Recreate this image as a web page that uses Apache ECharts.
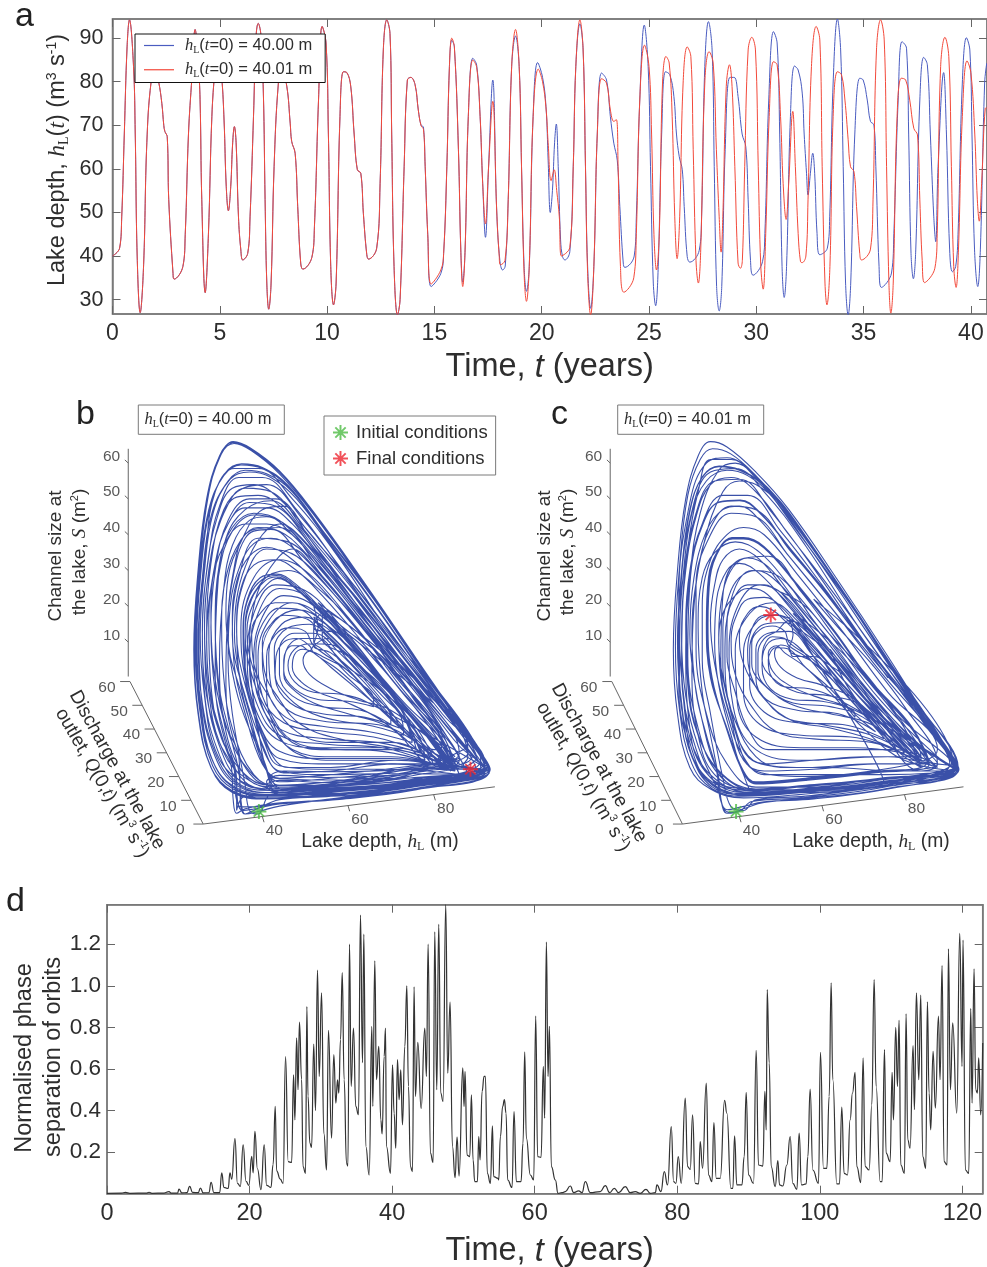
<!DOCTYPE html>
<html><head><meta charset="utf-8">
<style>html,body{margin:0;padding:0;background:#fff}#c{width:987px;height:1267px}</style>
<script src="https://cdn.jsdelivr.net/npm/echarts@6/dist/echarts.min.js"></script>
</head><body><div id="c"></div>
<script>
// ---------- panel a: lake depth, flat lists of t,value
const depthShared = [0,40,.33,41.8,.43,49,.55,68,.68,88,.79,94.2,.98,83.5,1.06,68,1.15,40,1.29,27,1.45,38,1.6,66,1.8,80,2,82.5,2.15,80,2.3,75,2.39,70,2.44,68.6,2.55,67.4,2.62,53,2.82,36,2.87,34.7,3.28,37.6,3.39,45,3.54,68,3.7,81,3.85,92,4,84,4.08,76,4.16,53,4.32,31.6,4.47,45,4.63,72,4.78,83,4.92,88,5.09,81,5.2,71,5.3,56,5.4,50.4,5.51,56,5.6,66,5.68,69.7,5.76,66,5.87,49,5.98,41.4,6.07,39.1,6.3,40.6,6.41,49,6.57,72,6.69,90.4,6.79,93.4,6.91,91,7.03,77.4,7.11,53,7.19,33.8,7.28,27.8,7.39,33.8,7.53,60.5,7.73,79.7,7.89,82.7,8.12,79,8.28,70.5,8.35,66.3,8.51,63.6,8.63,51.4,8.77,38.4,8.87,37,9.29,39.7,9.41,46.8,9.6,75.8,9.77,92.7,9.95,88.9,10.06,68,10.17,37.6,10.3,28.8,10.42,33.8,10.6,72,10.76,82.3,10.92,82.1,11.1,79,11.26,68,11.41,59.8,11.57,59,11.69,49.8,11.85,40.3,11.93,39.3,12.31,41.8,12.47,56.7,12.62,87.3,12.78,94.2,12.93,91.1,13.01,68,13.12,37.6,13.28,26.5,13.4,30,13.59,60.5,13.74,80.4,13.9,81,14.1,79.3,14.25,73.5];
const depthBlueMid = [14.38,70,14.49,69.6,14.57,60.5,14.69,45,14.85,33,15.3,36,15.43,40.6,15.58,60.5,15.7,83.5,15.81,89.5,15.93,88,16.12,64.4,16.23,41.4,16.32,34,16.43,41.4,16.58,72,16.79,85.4,16.97,83.8,17.13,72,17.25,56.7,17.38,44.3,17.52,60,17.72,80.4,17.9,50.8,18.05,39,18.18,36.8,18.3,37.7,18.44,53,18.6,83.5,18.78,90.5,18.95,83.5,19.06,60.5,19.18,37.6,19.29,31.9,19.42,37.6,19.6,72,19.81,84.4,20.04,81,20.2,74.3,20.3,62,20.4,50,20.5,55,20.6,66,20.68,70.3,20.77,60.5,20.88,43.7,20.97,39.9,21.08,39.1,21.31,41,21.47,60.5,21.59,83.5,21.78,93.3,21.93,87.3,22.04,60.5,22.14,37.6,22.28,28,22.43,37.6,22.59,68,22.79,82,23.02,80.4];
const depthBlueTail = [23.2,72,23.36,65.9,23.52,62,23.64,51.4,23.8,38.4,23.87,37.4,24.31,40,24.41,49,24.57,75.8,24.78,93,24.96,83.5,25.07,60.5,25.2,33.8,25.31,28.6,25.43,37.6,25.59,68,25.77,82.3,25.97,81.6,26.16,76.6,26.28,68,26.41,62.8,26.55,59.8,26.64,51.4,26.78,39.9,26.9,38.6,27.34,41.3,27.45,49,27.6,83.5,27.77,93.8,27.94,87.3,28.04,60.5,28.15,33,28.27,27.4,28.39,33,28.55,64.4,28.77,81,28.97,81,29.15,76.6,29.34,68,29.51,65.1,29.62,52.9,29.73,39,29.85,35.6,30.29,38.7,30.4,45.2,30.58,75.8,30.8,91.5,30.97,88.9,31.09,68,31.2,37.6,31.3,30.5,31.41,37.6,31.59,72,31.78,83.6,31.95,82.7,32.14,77.4,32.23,68,32.34,59,32.41,54,32.52,59,32.63,63.6,32.72,59,32.83,45.2,32.96,40.3,33.31,41.8,33.42,49,33.58,79.7,33.78,94.4,33.93,87.3,34.05,60.5,34.16,33.8,34.28,26.5,34.4,33.8,34.59,68,34.82,80.8,34.98,80.4,35.17,75.8,35.32,70.9,35.48,70.1,35.57,60.5,35.72,37.6,35.83,32.8,36.3,36.1,36.41,45.2,36.61,75.8,36.79,89.2,37,87.7,37.1,68,37.21,40.6,37.32,34.8,37.43,41.4,37.62,75.8,37.8,85.6,37.97,83.9,38.11,68,38.27,49,38.36,43.3,38.47,60.5,38.73,82.1,38.86,68,39.01,41.4,39.14,36.4,39.29,37.6,39.4,45,39.6,79.7,39.79,90.1,39.95,87.3,40.05,68,40.17,41.4,40.32,33,40.44,41.4,40.64,79.7,40.74,84.3];
const depthRedMid = [14.38,69.9,14.49,69.1,14.57,60.5,14.69,45,14.85,33.6,15.3,36.8,15.43,40.6,15.58,60.5,15.7,83.5,15.81,90,15.93,88,16.12,64.4,16.23,41.4,16.32,33,16.43,41.4,16.58,72,16.79,85,16.97,83.3,17.13,72,17.25,56.7,17.38,47.4,17.52,60,17.72,75.5,17.9,50.8,18.02,40,18.08,38,18.29,39,18.44,53,18.6,83.5,18.78,92,18.95,83.5,19.06,60.5,19.18,36,19.29,29.6,19.42,37.6,19.6,72,19.84,82.9,20.04,80,20.2,74,20.3,66,20.44,57.3,20.58,59.8,20.7,55,20.82,49,20.92,40,21.31,42,21.47,60.5,21.59,83.5,21.78,94.2,21.93,87.3,22.04,60.5,22.14,36,22.28,26.5,22.43,37.6,22.59,68,22.79,80.7,23.02,79.7];
const depthRedTail = [23.2,73.5,23.36,70.9,23.48,71.3,23.56,60.5,23.67,37.6,23.83,31.7,24.29,35,24.41,45.2,24.57,75.8,24.79,88.4,25,83.5,25.12,68,25.23,45,25.35,36.8,25.48,45.2,25.63,79.7,25.79,85.8,25.94,84.3,26.08,72,26.2,49,26.31,39.4,26.43,49,26.59,79.7,26.78,88,26.95,85.8,27.06,64.4,27.19,39,27.3,33.8,27.41,41.4,27.6,79.7,27.8,86.9,27.99,84.3,28.14,64.4,28.27,49,28.36,40.9,28.44,49,28.6,78.9,28.75,83.9,28.87,78.9,29,60.5,29.15,38.4,29.26,37.2,29.35,39,29.46,60.5,29.62,87.3,29.79,90.2,29.96,87.3,30.09,60.5,30.21,37.6,30.32,32.4,30.44,45.2,30.6,72,30.8,84.6,30.97,83.9,31.13,72,31.25,56.7,31.39,48.4,31.51,56.7,31.7,73.2,31.82,60.5,31.95,45.2,32.06,38.7,32.14,38.5,32.31,40,32.41,52.9,32.57,83.5,32.79,92.7,32.96,89.6,33.07,60.5,33.2,33.8,33.29,28.8,33.43,37.6,33.58,72,33.78,82.3,33.97,81.6,34.13,75.8,34.28,66.7,34.39,60.5,34.55,59.4,34.67,51.4,34.82,40.6,34.9,39.1,35.32,41.6,35.44,52.9,35.6,87.3,35.79,94.2,35.96,89.6,36.07,60.5,36.18,33.8,36.27,26.9,36.38,33.8,36.56,72,36.76,80.8,36.96,80.4,37.15,75.8,37.34,69.3,37.51,67.8,37.62,52.9,37.73,39,37.84,33.9,38.32,37.2,38.43,45.2,38.59,83.5,38.79,90.2,38.97,85.8,39.09,60.5,39.2,37.6,39.31,32.8,39.42,41.4,39.6,72,39.82,84.8,40,82,40.18,68,40.3,52.9,40.39,48,40.5,56.7,40.67,73.9,40.74,74];
const timeTicksA = [0,5,10,15,20,25,30,35,40];
const depthTicksA = [30,40,50,60,70,80,90];

// ---------- panel d: separation, flat list of t,value
const separation = [0,.002,2,.003,2.6,.006,3.2,.002,5.5,.003,5.9,.007,6.3,.002,8,.003,8.7,.01,9,.003,9.9,.003,10.1,.022,10.5,.004,11.2,.005,11.6,.035,12,.006,12.8,.005,13.1,.027,13.5,.004,14.3,.005,14.6,.055,15,.005,15.8,.005,16.1,.1,16.4,.03,17,.025,17.25,.1,17.5,.07,17.95,.265,18.3,.05,18.7,.035,19.1,.235,19.5,.06,19.9,.04,20.3,.18,20.5,.1,20.75,.3,21.1,.12,21.6,.02,22.05,.235,22.4,.04,23,.03,23.3,.14,23.6,.42,23.8,.11,24.3,.07,24.7,.05,25.05,.66,25.42,.154,25.9,.15,26.17,.572,26.36,.355,26.6,.75,26.8,.5,27,.825,27.3,.55,27.5,.13,27.85,.098,28.04,.9,28.2,.47,28.46,.243,28.7,.223,29,.72,29.25,.4,29.53,1.075,29.77,.564,30.1,.966,30.42,.29,30.8,.114,31.07,.786,31.5,.267,31.82,.669,32.1,.436,32.34,.548,32.52,.484,32.76,.741,33,1.063,33.27,.548,33.6,.146,33.79,.133,34.02,1.2,34.25,.516,34.58,.797,34.9,.42,35.28,.38,35.56,1.34,35.84,.63,36.03,1.248,36.31,.227,36.78,.09,37.15,.805,37.29,.42,37.57,1.12,37.8,.548,38.13,.709,38.41,.355,38.6,.288,38.88,.66,39.07,.797,39.2,.227,39.77,.098,40.05,.62,40.28,.387,40.51,.219,40.75,.645,40.98,.452,41.21,.596,41.45,.331,41.78,.709,42.06,1,42.29,.516,42.57,.13,42.85,.106,43.08,.995,43.27,.468,43.6,.728,44.07,.41,44.58,.797,44.81,.564,45.05,1.2,45.37,.195,45.75,.15,45.98,1.26,46.26,.5,46.54,1.296,46.82,.484,47.15,.444,47.52,1.39,47.8,.58,48.13,.921,48.46,.227,48.83,.077,49.11,.272,49.39,.085,49.91,.605,50.09,.42,50.23,.588,50.51,.186,50.89,.178,51.12,.476,51.36,.162,51.59,.058,51.96,.058,52.15,.275,52.34,.162,52.62,.492,52.9,.564,53.08,.564,53.36,.098,53.79,.05,54.07,.326,54.25,.082,54.86,.074,54.95,.066,55.19,.275,55.51,.42,55.75,.452,55.98,.387,56.21,.066,56.82,.03,57.1,.395,57.43,.058,58.08,.058,58.36,.243,58.6,.682,58.83,.267,59.39,.09,59.86,.066,60.14,.854,60.42,.178,60.89,.175,61.21,.612,61.4,.363,61.64,1.21,61.87,.564,62.06,.805,62.34,.13,62.9,.066,63.27,.002,63.83,.005,64.3,.01,65,.037,65.47,.005,66.17,.014,66.64,.005,67.1,.058,67.8,.005,69.2,.01,69.91,.039,70.51,.005,71.17,.026,71.78,.005,72.71,.034,73.41,.005,74.11,.01,74.81,.002,75.61,.021,76.21,.002,76.92,.005,77.15,.042,77.71,.01,78.18,.106,78.64,.042,79.16,.323,79.49,.058,79.81,.05,80.14,.178,80.56,.05,81.12,.46,81.45,.13,81.82,.117,82.15,.379,82.52,.05,82.99,.047,83.22,.25,83.55,.122,84.07,.532,84.39,.09,84.86,.058,85.14,.342,85.47,.074,86.03,.074,86.64,.449,86.96,.387,87.52,.026,87.8,.026,88.04,.278,88.36,.042,89.07,.042,89.39,.178,89.67,.487,90,.09,90.7,.05,91.07,.69,91.4,.138,92.01,.133,92.29,.492,92.48,.307,92.62,.982,92.9,.629,93.18,.13,93.74,.034,94.11,.159,94.35,.042,94.81,.037,95.37,.138,95.84,.275,96.21,.05,96.78,.021,97.1,.291,97.43,.042,98.08,.047,98.32,.178,98.64,.503,99.02,.114,99.81,.05,100.09,.68,100.51,.122,100.98,.122,101.31,.468,101.59,1.014,101.82,.548,102.38,.047,102.76,.047,103.08,.416,103.41,.098,103.88,.09,104.25,.355,104.58,.484,104.95,.584,105.19,.13,105.75,.053,106.07,.653,106.36,.13,106.92,.114,107.29,.428,107.62,1.03,107.9,.516,108.46,.058,108.74,.058,109.07,.693,109.3,.195,109.86,.154,110.14,.584,110.33,.355,110.65,.8,110.89,.516,111.12,.834,111.36,.138,111.87,.098,112.1,.865,112.34,.259,112.66,.219,113.08,.712,113.27,.404,113.55,.966,113.88,.548,114.16,.955,114.44,.178,114.86,.122,115.09,.923,115.33,.484,115.56,.307,115.89,.685,116.21,.412,116.64,.854,116.87,.548,117.15,1.098,117.43,.154,117.85,.138,118.04,1.178,118.32,.5,118.64,.822,119.21,.387,119.63,1.252,119.95,.612,120.09,1.22,120.42,.114,120.89,.098,121.17,.891,121.36,.436,121.64,1.082,121.87,.5,122.1,.484,122.29,.653,122.57,.379,122.85,.725];
const timeTicksD = [0,20,40,60,80,100,120];
const sepTicks = [.2,.4,.6,.8,1,1.2];

// ---------- panels b, c: orbit loops, estimated on the picture plane
// (horizontal unit = hL along the front axis, vertical unit = S along the vertical axis)
const orbitB = [
[93,-25,75,-30,55,-32.5,41,-33.5,33,-31.5,28,-25,25,-10,24,8,25,30,27,50,30,62,33,65.8,37,64,44,57.5,52,46,64,26,76,5,88,-16],
[93.2,-25.5,75,-30.4,55,-32.8,41,-33.8,33,-32,28.2,-25.5,25.2,-11,24.2,8,25.2,30,27.2,50,30.2,62,33.2,66,37.2,64.2,44,57.8,52,46.3,64,26.3,76,5.3,88,-15.8],
[92.6,-24.6,75,-29.6,55,-32,41,-33,33.2,-31,28.4,-24.5,25.4,-9,24.4,9,25.4,31,27.4,51,30.4,62.5,33.4,65.5,37.4,63.5,44,57,52,45.6,64,25.6,76,4.7,88,-16.3],
[93,-25.2,75,-30.2,55,-32.6,41,-33.6,33,-31.7,28.1,-25.2,25.1,-10,24.1,8,25.1,30,27.1,50,30.1,62,33.1,65.9,37.1,64,44,57.6,52,46.1,64,26.1,76,5.1,88,-15.9],
[92,-24,74,-29.5,55,-31.5,42,-32.5,33,-30,28,-22,25.5,-8,24.5,10,25.5,30,27.5,47,31,56.5,35,59.5,40,58.5,46,53.5,54,41,66,22,78,1,88,-15],
[92.5,-24.5,74,-29.8,55,-31.8,42,-32.8,33.2,-30.5,28.2,-22.5,25.7,-8,24.7,10,25.7,30,27.7,47,31.2,57,35.2,59.8,40,58.8,46,53.8,54,41.3,66,22.3,78,1.3,88,-14.8],
[91,-23,74,-29,55,-31,42,-32,34,-29.5,29,-21,26,-7,25,10,26,28,28,45,32,55,36,58,41,57,47,52,55,39,66,21,78,.5,88,-15.5],
[92,-23.5,74,-28.5,55,-30.5,43,-31.5,34,-28,29,-20,26.5,-5,25.5,12,26.5,30,28.5,46,32.5,55.5,37,57.5,42,56,48,50,56,37,67,19,78,0,87,-15],
[93,-26,75,-31,55,-34,43,-35,36,-36.5,34,-37.8,33.2,-34,32.8,-25,30,-18,27,-5,26,12,27,30,29.5,45,33,53,38,54,44,50,52,39,62,25,74,6,86,-14],
[90,-22,74,-27.5,56,-30,44,-31,35,-27,30,-18,27.5,-4,26.5,14,27.5,30,30,43,34,50.5,39,51,45,47,53,35,63,21,74,4,85,-13],
[92,-25,75,-30,56,-33,44,-34,38,-37,36,-38,35,-34,34.5,-22,31,-12,28.5,4,28,18,29,32,32,43,36,47.5,41,47.5,47,43,55,31,65,16,76,-1,88,-20],
[88,-21,73,-26.5,56,-29,43,-30,37,-26,32,-15,29.5,0,29,15,30,30,33,41,38,45.5,43,44.5,49,39,57,27,66,13,76,-3,86,-18],
[89,-22,73,-27,56,-29.5,44,-30.5,38,-27,33,-14,31,0,30.5,15,31.5,28,35,38.5,39,42,44,41,50,35,58,24,67,10,77,-5,86,-19],
[92,-25,74,-29,56,-31,42,-32.5,39,-38,37,-37,36,-30,33,-10,32,5,32.5,20,35,32,38,37.5,42,39,47,36.5,54,28,63,15,74,-3,85,-20],
[86,-22,72,-25,56,-27,44,-28,40,-24,36,-10,33.5,3,33,16,34,27,37,34,41,36.5,46,34,53,26,61,15,71,1,81,-13],
[86,-23,72,-26,56,-28,44,-29,41,-26,37,-12,34.5,2,34,15,35,25,38,31.5,43,33,48,30,54,23,62,12,72,-3,82,-16],
[85,-24,71,-24,56,-26,45,-26.5,41,-22,38,-10,36,1,35.5,13,36.5,22,39.5,28,43.3,29,48,26,54,19,63,7,72,-6,80,-17,85,-25],
[85,-25,71,-23,56,-25,46,-25,41.5,-20,38,-8,36,3,35.6,15,37,23,40,27.5,43.3,28.6,48,25.5,54,18.5,63,6.5,72,-6.5,80,-17.5,85,-25.5],
[85,-25.5,70,-20,55,-20,47,-18,41.5,-10,37.5,1,36,13,37.5,22,40.5,27,43.3,28.2,48,25,54,18,63,6,72,-7,80,-18,85,-26],
[84,-24,70,-19.5,55,-19.5,47,-17.5,42,-10,38,2,36.4,13,38,21,41,26,43.5,27.8,48,24.7,54,17.7,63,5.7,72,-7.3,80,-18.2,84,-25],
[82,-24,70,-18,56,-18,48,-15,42,-6,38,4,37.5,13,39.5,18,43,21,47,21,52,18,58,11,66,1,74,-10,82,-22],
[83,-25,70,-22,56,-22,47,-20,42,-13,39,-3,38.5,8,40,15,44,19.5,49,19,53,15,60,7,68,-3,76,-14,83,-25],
[84,-25,72,-20,58,-17,49,-13,44,-6,40.5,2,40,10,42,15,45,17.5,49,17,52,14.5,52,10,57,9,65,0,73,-11,81,-22],
[85,-26,72,-23,58,-23,48,-21,43,-14,41,-4,41,6,43,12,46,14,50,13,52,9,60,2,68,-8,76,-18,84,-25],
[84,-26,70,-14,58,-12,50,-9,45,-4,43,1,43.2,6,45,10,48,11,51,9,52,7,58,2,66,-7,74,-16,82,-24],
[80,-24,70,-14,60,-10,52,-7,47,-3,45,1,45,5,47,9,49,9,51,7.5,52,9,55,11,60,5,68,-5,76,-15],
[78,-22,68,-12,60,-7,53,-4,49,-1,47,3,47.5,6.5,49.5,8,52,7,56,3,62,-3,68,-9,74,-15,80,-20],
[82,-20,70,-9,62,-6,56,-3,51,1,49.5,5,51,7.5,54,6,60,2,66,-6,74,-16,84,-26],
[80,-19,74,-10,66,-2,60,3,56,8,53,12,52,16,55,14,60,9,66,2,72,-6,79,-15,85,-22],
[78,-15,72,-7,66,0,60,6,54,13,52,17,56,14,62,8,68,0,74,-8,81,-16,86,-24],
[92,-26,75,-30.5,56,-32.5,44,-32.5,41,-26,39,-14,37.5,-2,37,10,38,20,40,27,44,34,47,36,52,31,60,20,70,5,80,-8,90,-23],
[93,-25,75,-29,56,-31,44,-31,40.5,-24,37,-10,34.5,2,33.5,12,34,22,36,31,40,40,44,43,50,38,58,26,68,10,78,-5,91,-24],
[93,-25.5,74,-28,56,-30,44,-30,40,-22,35,-8,32.5,5,31.5,18,32,28,35,38,40,47,45,48,51,39,60,25,70,9,82,-10,92,-24],
[92,-25,76,-30,56,-33,44,-33,36,-33,34,-37,34,-30,31,-18,28,-5,27,10,28,25,31,37,36,43,41,43,47,40,56,27,68,9,80,-6,92,-25],
[64,-6.5,58,-4.5,52,-4,47.5,-1,46,3.5,47.5,8,51,9.5,54,8,60,1,66,-6],
[66,-8,60,-6.5,53,-6,47.5,-3,45,2,45.5,7.5,49,11,53,11,58,5,65,-4,70,-11],
[70,-13,63,-9,54,-8,47,-5,44,1,44,8,47.5,12.5,52,12.5,58,7,65,-2,71,-11],
[72,-14,64,-11,54,-10,46.5,-7,43,0,42.8,8,46,14,51,15,56,11,63,2,72,-10],
[73,-16,64,-13,54,-12,46,-9,42,-2,41.5,7,44.5,15,50,17,55,13,63,3,73,-11],
[75,-18,65,-15,54,-13.5,45.5,-11,41,-3,40,7,43,16,48.5,19,54,16,62,6,72,-8],
[76,-20,66,-16.5,55,-15,45,-12.5,40,-5,39,6,41.5,16,47,21,53,18,61,9,71,-6],
[77,-21,67,-18,55,-17,44.5,-14.5,39.5,-7,38,5,40,17,45,23,51,21,60,11,70,-4],
[78,-23,68,-19.5,55,-18.5,44,-16,39,-8,37,4,39,18,44,25,50,23,59,13,69,-2],
[80,-24,68,-20.5,55,-19.8,44,-17.5,38.5,-9,36.5,5,38,18,43,26,49,25,58,15,68,0],
[84,-25,70,-22.5,55,-22.5,44,-20.5,39,-12,36,2,36,15,40,27,46,30,53,25,62,14,72,-2,82,-17],
[85,-26,70,-24,55,-24,44,-22.5,40,-15,36,0,35,14,38,28,44,33,51,29,60,17,70,2,80,-13],
[86,-27,70,-25.5,55,-25.5,44,-24.5,40.5,-18,36,-2,34,13,36,28,41,36,48,34,57,23,68,7,80,-11],
[86,-27,70,-26.7,55,-27,44,-26,40.5,-20,35.5,-3,33,12,34.5,28,39,39,46,38,55,27,66,11,78,-7],
[88,-27,70,-28,55,-28.5,43,-28,40,-22,35,-4,32,12,33,28,37,41,44,42,53,31,64,15,76,-3],
[90,-26,72,-29,55,-30,43,-30,37,-28,31,-18,28,-2,27.5,15,29,32,32,43,37,49,43,48,52,36,62,22,74,4,86,-15],
[91,-25,72,-28.8,55,-30.2,42,-31,35,-29,30,-19,27,-3,26.5,14,28,33,31,46,36,53,42,52,50,41,61,25,73,6,86,-14],
[92,-25,73,-29.2,55,-30.8,42,-31.4,34.5,-29.5,29.5,-20,26.5,-4,26,13,27.5,34,30,48,34.5,56,40,56,48,47,58,31,71,9,85,-12],
[92,-24,73,-29.6,55,-31.3,42,-32,34,-30,29,-22,25.8,-6,25.2,12,26.8,35,29,52,33.5,58.5,39,58.5,47,50,57,35,70,12,84,-9],
[88,-22,72,-26,56,-29,44,-30,38,-28,33,-16,31.5,0,32,18,34,33,36,39,38,41,42,41.5,50,32,60,19,72,2,84,-14],
[86,-21,70,-26,54,-30,44,-30.5,36.5,-28,31,-12,30,5,31,25,33,37,37,44,41,45,47,40,55,29,66,13,78,-3,88,-17],
[87,-20,72,-27,54,-30.5,43,-31,36,-29,30.5,-14,29,3,29.5,24,31.5,39,36,47,42,49.5,49,42,58,27,68,11,80,-7],
[52,20,53,14,52,9,56,7,62,1,68,-7,76,-18,80,-24,82,-17,76,-7,70,3,62,13,56,18,52,20],
[54,18,54,11,60,6,66,-1,72,-10,78,-19,84,-24,80,-13,74,-3,68,6,60,13,54,18],
[52,14,60,12,67,4,74,-6,81,-16,84,-23,78,-12,70,0,64,9,57,16,53,21],
[92,-25,72,-29.8,55,-32,44,-32.4,41,-30,44,-28.6,55,-29.2,70,-28.2,82,-25],
[93,-26,74,-30,55,-32.2,44,-32,41,-29,44,-27.2,55,-27.8,70,-27.2,83,-25.5],
[92,-25.5,74,-29.4,56,-31.2,45,-31.2,42,-27.5,45,-26,56,-26.2,70,-25.8,84,-24.6],
[93,-26.5,76,-30.8,58,-33.5,44,-35.8,39,-37.3,36,-38,35,-36,34.6,-27,32.5,-16,30,-3,29,15,30,32,33,42,38,46,44,44,52,34,64,17,78,-3],
[92,-26,76,-31,58,-33.7,44,-35.2,38,-36.6,35.5,-37,34.3,-35,33.8,-26,31.5,-17,29,-4,28,14,29,30,32,44,37,50,43,50,50,42,62,24,76,2,90,-20],
[93,-26,76,-31.2,58,-33.9,44,-35,38,-36,35,-36,33.8,-33,33.4,-25,30.5,-17,28,-6,27,14,28,32,31,47,35.5,53,41,54,49,45,60,28,74,6,89,-18]
];
const orbitC = [
[93,-25,75,-30,55,-32.5,41,-33.5,33,-31,28,-25,25,-10,24,8,25,30,27,50,30,62,33,66,37,64.5,44,57.5,52,47,64,27,76,6,88,-16],
[93.2,-25.5,75,-29.5,55,-32,41,-33,33.5,-31,28.5,-24,25.5,-9,24.5,9,25.5,31,27.5,51,30.5,61,33.5,64,38,62.5,44,56.5,52,46,64,26,76,5,88,-16.5],
[92.5,-24.5,74,-29,55,-31.5,42,-32.5,34,-30,28.5,-22,26,-8,25,10,26,30,28,47,31,56,35,59,40,58,46,53.5,54,42,66,22.5,78,1.5,88,-15.5],
[92.8,-24.8,74,-29.3,55,-31.8,42,-32.8,34,-30.3,28.6,-22.3,26.1,-8,25.1,10,26.1,30,28.1,47,31.1,56.3,35.1,59.2,40,58.2,46,53.7,54,42.2,66,22.7,78,1.7,88,-15.3],
[91.5,-23.5,74,-28.5,55,-31,43,-32,35,-29,29,-20,26.5,-5,25.5,12,26.5,30,28.5,46,32,55,37,58,42,56.5,48,50.5,56,38,67,19.5,78,.5,87,-15],
[93,-25,75,-30.5,55,-33.5,43,-34.5,40,-37.3,37,-37.8,35,-32,30,-19,27,-5,26,12,27,30,29.5,45,33,54,38,56,44,52,52,40,62,25,74,6,86,-14],
[92,-24.5,74,-28,56,-30,44,-31,36,-27,30,-16,27.5,-2,27,15,28,30,31,43,35,49,40,49.5,45,46,53,35,63,21,74,4,85,-13],
[92.2,-24.7,74,-28.3,56,-30.3,44,-31.3,36,-27.3,30.2,-16.3,27.7,-2,27.2,15,28.2,30,31.2,43,35.2,49.2,40.2,49.7,45,46.2,53,35.2,63,21.2,74,4.2,85,-13.2],
[92,-25,75,-30,56,-33,44,-34,41,-37,38,-36,36,-28,33,-10,31,5,31,20,33,33,37,40,41,42,46,40,54,29,65,13,76,-4,88,-20],
[85,-23,72,-26,56,-28,44,-29,41,-26,37,-14,33,0,32,15,32.5,28,35,36,38,39,41,39,46,36.5,54,26,63,13,72,-1,82,-14],
[85.5,-23.5,72,-26.3,56,-28.3,44,-29.3,41,-26.3,37,-14.3,33.2,0,32.2,15,32.7,28,35.2,36.2,38.2,39.2,41,39.2,46,36.7,54,26.2,63,13.2,72,-1.2,82,-14.2],
[86,-24,72,-26.6,56,-28.6,44,-29.6,41,-26.6,37,-14.6,33.4,0,32.4,15,32.9,28,35.4,36.4,38.4,38.8,41,38.8,46,36.3,54,25.8,63,12.8,72,-1.6,82,-14.6],
[86,-24,73,-24,58,-25.5,46,-26,41,-23,38,-12,35.5,0,35,12,36,24,38.5,31,42,33.5,47,31,54,21,63,9,72,-5,81,-17],
[88,-25,76,-22,58,-23,46,-24,41,-20,38,-9,36,3,36,14,37.5,23,40,28,44,30,49,27,55,19,64,6,73,-8,83,-22],
[88,-25,78,-20,60,-20,47,-20,42,-14,39,-4,37,6,37,15,39,23,42,26,46,26,50,23,56,15,64,4,73,-9,84,-22],
[84,-24,72,-18,58,-17,49,-15,43,-8,39,1,38,11,39.5,18,42,22,46,22.5,50,20,56,12,64,1,73,-10,82,-21],
[84,-23,72,-16,60,-13,51,-11,45,-4,41,4,40,12,42,18,45,20,48,19,51,16,57,9,65,-2,74,-14,84,-24],
[84,-24,70,-11,62,-8,53,-7,46,-2,43,4,43,10,45,13.5,48,14.5,51,13,52,10,58,5,66,-5,75,-16],
[82,-22,70,-8,62,-5,54,-4,48,0,45.5,5,46,9,48,11.5,51,11,52,9,56,6,62,0,70,-10,78,-19],
[80,-20,68,-6,60,-2,54,0,50,3,48.5,7,50,9.2,52,8.5,53,6,58,6,64,-2,70,-10,78,-20],
[82,-22,72,-13,62,-10,54,-8,48,-4,44.5,2,44.5,7,46,11,49,13,52,16,56,14,62,7,70,-4,79,-15],
[84,-24,74,-18,62,-14,53,-12,47,-7,43,0,42,8,43.5,15,46,17.5,49,17.6,53,16,58,11,64,3,72,-8,82,-22],
[92,-25,76,-30,56,-32,44,-32,41,-27,38,-16,35,-2,34,10,34.5,22,37,30,40,32,45,29,52,20,60,9,70,-5,82,-18,92,-25],
[92.5,-25.5,76,-27,58,-27,46,-27,41,-22,37,-10,34,4,33,16,34,26,36,33,40,36,45,33,52,23,62,9,72,-5,84,-19,93,-26],
[93,-26,78,-26,62,-25,50,-25,44,-22,39,-12,36,0,35,10,36,18,39,23,42,25,46,24,51,18,60,6,68,-4,80,-17],
[88,-22,76,-14,66,-8,58,-5,52,-2,48,2,47,7,49,9,51,7,56,3,62,-4,70,-14,80,-23,93,-26],
[92,-26,76,-29,58,-31,44,-31.5,38,-30,34,-24,31,-12,29,0,28,12,29,28,32,41,36,47,40,48,45,44,52,34,62,20,74,3,86,-13,92,-25],
[64,-6,57,-3,51,-2.5,47.5,1,47,5,49,8.5,52,8,56,3,62,-3,68,-11],
[68,-10,60,-6.5,53,-6,47.5,-3,45.5,3,46.5,9,50,11,54,9,60,1,67,-9],
[73,-15,64,-10,54,-9,46.5,-6,44,0,44,8,47,12.5,52,13,58,6,66,-4,74,-15],
[75,-17,65,-13,54,-12.5,46,-9.5,42.5,-2,42.5,8,46,15,51,15.5,57,9,66,-3,76,-16],
[78,-20,67,-16.5,55,-16,45,-13,41,-4,41,7,44.5,16,49,17.5,55,12,64,1,74,-12],
[80,-21,68,-19.5,55,-19.5,44,-16.5,39.5,-7,39,8,42.5,18,48,21,54,16,63,4,72,-8,82,-19],
[84,-22,70,-22,56,-23,44,-20,38.5,-8,37.5,8,40,21,45,26,51,23,60,10,70,-4,82,-18],
[86,-24,72,-24,56,-25,44,-23.5,38.5,-12,36.5,6,38,22,43,30,50,28,58,16,68,1,80,-15],
[88,-24,74,-26,56,-27.5,44,-26,39,-15,35.5,5,36,23,40,33,47,34,55,24,66,7,78,-10],
[92,-25,74,-28,56,-30.5,44,-30.5,37,-24,32,-10,29.5,8,29.5,26,33,40,38,46,44,45,52,34,62,20,74,2,88,-17],
[92,-25,74,-28.5,56,-31,43,-31.5,35,-27,30,-14,27.5,6,28,26,31,43,36,51,42,51,50,41,60,26,72,7,86,-14],
[92,-25,74,-29,55,-31.4,42,-32,34,-29,29,-18,26,2,26.5,26,29.5,46,34,55,40,55.5,48,46,59,29,71,9,85,-12],
[91,-24,73,-29.3,55,-31.7,42,-32.3,33.5,-30,28.5,-20,25.5,0,25.8,24,28.8,48,33,57.5,39,58.5,46,52,56,37,69,14,84,-10],
[92.5,-25,74,-29.6,55,-31.9,42,-32.6,33.5,-30.5,28.3,-21,25.3,-2,25.3,22,28,49,32,60,37,61.5,44,56,54,41,66,22,80,-2,92,-24],
[93,-25,80,-2.5,68,19,56,39.5,50,49,44,56,38,61,33,61,30,52,27.5,36,26,12,27,-12,30,-25,38,-31,55,-32,75,-30],
[93,-25.5,80,-2.2,68,19.2,56,39.7,50,49.2,44,56.2,39,60,35,58,30.5,46,28,28,27,8,28,-14,31,-25,38,-30.6,55,-31.6,75,-29.6],
[93,-24.8,80,-2.8,68,18.8,56,39.2,50,48.5,44,54,40,55,36,52,31.5,38,29,20,28.5,2,30,-16,34,-27,42,-31,55,-31.2,75,-29.2],
[52,17,53,12,52,8,57,5,64,-1,72,-11,78,-20,84,-25,80,-14,72,-2,65,7,58,14,53,18],
[60,9,54,14,58,7,66,0,74,-11,82,-21,86,-23,78,-10,70,2,62,12,56,20,50,24],
[84,-22,77,-14,70,-4,62,8,66,-2,74,-14,84,-26,88,-24,80,-8,72,4,64,14,58,22],
[92,-25,76,-30.8,58,-33.5,46,-34.8,41,-36.5,38,-37.6,36,-36,35,-28,33,-16,31,-4,30,14,31,28,34,35,39,38,45,35,52,26,62,12,74,-6,88,-22],
[93,-26,76,-31,58,-33.8,46,-34.6,40.5,-36,37,-36.8,35.4,-34,34.5,-26,32,-16,29.5,-4,28.5,12,30,30,33,42,38,48,44,47,52,36,62,22,76,0]
];
const axisS = [10,20,30,40,50,60];
const axisQ = [0,10,20,30,40,50,60];
const axisH = [40,60,80];
// picture-plane ends of the three drawn axes
const sAxisEnds = [[8.7,.4],[8.7,64]];
const qAxisEnds = [[26.2,-40.8],[9.1,-1]];
const hAxisEnds = [[26.2,-40.8],[94.3,-30.4]];
const startPoint = [39.2,-37.3];
const endPointB = [88.6,-25.5];
const endPointC = [47.6,17.6];

// ---------- build
const sans='"Liberation Sans",Arial,Helvetica,sans-serif', serif='"Liberation Serif","Times New Roman",serif', ink='#2e2e2e', frame='#7a7a7a';
const BLUE='#4a5cc0', RED='#f2493a', ORBIT='#3a50a8', GREEN='#4dbb45', STAR='#ee2530';
const pairs=a=>{const o=[];for(let i=0;i<a.length;i+=2)o.push([a[i],a[i+1]]);return o;};
const astr='path://M8.7,0H11.3V20H8.7ZM0,8.7H20V11.3H0ZM2.2,4L4,2.2L17.8,16L16,17.8ZM16,2.2L17.8,4L4,17.8L2.2,16Z';
function rich(size){return {
  n:{fontSize:size,fontFamily:sans,fill:ink,color:ink,lineHeight:size+3},
  i:{fontSize:size,fontFamily:serif,fontStyle:'italic',fill:ink,color:ink,lineHeight:size+3},
  it:{fontSize:size,fontFamily:sans,fontStyle:'italic',fill:ink,color:ink,lineHeight:size+3},
  sub:{fontSize:Math.round(size*.6),fontFamily:serif,fill:ink,color:ink,verticalAlign:'bottom',lineHeight:Math.round(size*.6)},
  sup:{fontSize:Math.round(size*.6),fontFamily:sans,fill:ink,color:ink,verticalAlign:'top',lineHeight:Math.round(size*.6)}
};}
function T(x,y,rotDeg,text,size){return {type:'text',x,y,rotation:rotDeg*Math.PI/180,z:20,silent:true,
  style:{text,rich:rich(size),fontSize:size,fontFamily:sans,fill:ink,align:'center',verticalAlign:'middle'}};}
function L(x,y,t){return {type:'text',x,y,z:20,silent:true,style:{text:t,fontSize:34,fontFamily:sans,fill:'#222',align:'left',verticalAlign:'top'}};}
function Box(x,y,w,h){return {type:'rect',z:15,silent:true,shape:{x,y,width:w,height:h},style:{fill:'#fff',stroke:frame,lineWidth:1}};}

const graphics=[
 L(15,0,'a'),L(76,398,'b'),L(551,398,'c'),L(6,885,'d'),
 T(58,160,90,'{n|Lake depth, }{i|h}{sub|L}{n|(}{i|t}{n|) (m}{sup|3}{n| s}{sup|-1}{n|)}',23.5),
 T(549.7,367.5,0,'{n|Time, }{it|t}{n| (years)}',32.5),
 T(549.7,1251.5,0,'{n|Time, }{it|t}{n| (years)}',32.5),
 T(25,1058,90,'{n|Normalised phase}',23.5),
 T(54,1057,90,'{n|separation of orbits}',23.5),
 Box(138.3,405,146,29.3),T(208,419.5,0,'{i|h}{sub|L}{n|(}{i|t}{n|=0) = 40.00 m}',16.5),
 Box(617.7,405,146,29.3),T(687.5,419.5,0,'{i|h}{sub|L}{n|(}{i|t}{n|=0) = 40.01 m}',16.5),
 // panel b titles
 T(56,556,90,'{n|Channel size at}',19),
 T(80,552,90,'{n|the lake, }{i|S}{n| (m}{sup|2}{n|)}',19),
 T(380,842,0,'{n|Lake depth, }{i|h}{sub|L}{n| (m)}',19.3),
 T(117,770,-61,'{n|Discharge at the lake}',19),
 T(102,783,-60,'{n|outlet, }{i|Q}{n|(0,}{i|t}{n|) (m}{sup|3}{n| s}{sup|-1}{n|)}',19),
 // panel c titles
 T(545,556,90,'{n|Channel size at}',19),
 T(568,552,90,'{n|the lake, }{i|S}{n| (m}{sup|2}{n|)}',19),
 T(871,842,0,'{n|Lake depth, }{i|h}{sub|L}{n| (m)}',19.3),
 T(599,763,-61,'{n|Discharge at the lake}',19),
 T(583,777,-60,'{n|outlet, }{i|Q}{n|(0,}{i|t}{n|) (m}{sup|3}{n| s}{sup|-1}{n|)}',19)
];

const grids=[
 {left:112.5,top:19,width:875,height:295,show:true,borderColor:frame,borderWidth:1.5,backgroundColor:'#fff'},
 {left:91,top:427.3,width:428.3,height:429.7},
 {left:574.3,top:427.3,width:428.3,height:429.7},
 {left:107,top:904.7,width:875.7,height:289,show:true,borderColor:frame,borderWidth:1.5,backgroundColor:'#fff'}
];
const tick=(vals,len)=>({show:true,inside:true,length:len,customValues:vals,lineStyle:{color:'#666',width:1}});
function labelled(gridIndex,pos,min,max,vals,size,margin,fmt){return {type:'value',gridIndex,position:pos,min,max,splitLine:{show:false},
  axisLine:{show:true,onZero:false,lineStyle:{color:frame,width:1.5}},axisTick:tick(vals,8),
  axisLabel:{show:true,customValues:vals,fontSize:size,fontFamily:sans,color:ink,margin,formatter:fmt||(v=>String(v))}};}
function mirror(gridIndex,pos,min,max,vals){return {type:'value',gridIndex,position:pos,min,max,splitLine:{show:false},
  axisLine:{show:true,onZero:false,lineStyle:{color:frame,width:1.5}},axisTick:tick(vals,8),axisLabel:{show:false}};}
const hidden=(gridIndex,min,max)=>({type:'value',gridIndex,show:false,min,max,splitLine:{show:false}});

// axis order: 0 a-bottom/left, 1 a-top/right, 2 panel b, 3 panel c, 4 d-bottom/left, 5 d-top/right
const xAxes=[
 labelled(0,'bottom',0,40.75,timeTicksA,23,8), mirror(0,'top',0,40.75,timeTicksA),
 hidden(1,0,100),hidden(2,0,100),
 labelled(3,'bottom',0,122.85,timeTicksD,23.5,8), mirror(3,'top',0,122.85,timeTicksD)
];
const yAxes=[
 labelled(0,'left',26.7,94.4,depthTicksA,21.5,9), mirror(0,'right',26.7,94.4,depthTicksA),
 hidden(1,-50,70),hidden(2,-50,70),
 labelled(3,'left',0,1.39,sepTicks,22.5,6,v=>v.toFixed(1)), mirror(3,'right',0,1.39,sepTicks)
];
const nameBlue='hL(t=0) = 40.00 m', nameRed='hL(t=0) = 40.01 m';
const series=[
 {type:'line',name:nameBlue,xAxisIndex:0,yAxisIndex:0,symbol:'none',smooth:.4,lineStyle:{color:BLUE,width:1},itemStyle:{color:BLUE},data:pairs(depthShared.concat(depthBlueMid,depthBlueTail))},
 {type:'line',name:nameRed,xAxisIndex:0,yAxisIndex:0,symbol:'none',smooth:.4,lineStyle:{color:RED,width:1},itemStyle:{color:RED},data:pairs(depthShared.concat(depthRedMid,depthRedTail))},
 {type:'line',name:'Normalised phase separation',xAxisIndex:4,yAxisIndex:4,symbol:'none',smooth:.5,smoothMonotone:'x',lineStyle:{color:'#333',width:1.2},data:pairs(separation)}
];
function panel3d(ax,orbit,endPoint){
 const lerp=(e,f)=>[e[0][0]+(e[1][0]-e[0][0])*f,e[0][1]+(e[1][1]-e[0][1])*f];
 const ln=(d,c,w)=>({type:'line',xAxisIndex:ax,yAxisIndex:ax,symbol:'none',silent:true,lineStyle:{color:c||'#666',width:w||1},data:d});
 const lab=(d,ox,oy)=>({type:'scatter',xAxisIndex:ax,yAxisIndex:ax,symbolSize:0,silent:true,data:d,
   label:{show:true,position:'inside',offset:[ox,oy],formatter:p=>String(p.value[2]),fontSize:15.5,fontFamily:sans,color:ink}});
 const sPts=axisS.map(v=>{const f=(v-sAxisEnds[0][1])/(sAxisEnds[1][1]-sAxisEnds[0][1]);return lerp(sAxisEnds,f);});
 const qPts=axisQ.map(v=>lerp(qAxisEnds,v/60));
 const hPts=axisH.map(v=>lerp(hAxisEnds,(v-hAxisEnds[0][0])/(hAxisEnds[1][0]-hAxisEnds[0][0])));
 series.push(ln(sAxisEnds),ln(qAxisEnds),ln(hAxisEnds));
 sPts.forEach(p=>series.push(ln([p,[p[0]-.8,p[1]+.9]])));
 qPts.forEach(p=>series.push(ln([p,[p[0]-2.3,p[1]]])));
 hPts.forEach(p=>series.push(ln([p,[p[0]+.4,p[1]-1.6]])));
 series.push(lab(sPts.map((p,i)=>[p[0],p[1],axisS[i]]),-16.7,-6.7));
 series.push(lab(qPts.map((p,i)=>[p[0],p[1],axisQ[i]]),-23,6));
 series.push(lab(hPts.map((p,i)=>[p[0],p[1],axisH[i]]),12,14.5));
 series.push({type:'line',xAxisIndex:ax,yAxisIndex:ax,symbol:'none',smooth:.4,silent:true,z:3,lineStyle:{color:ORBIT,width:1.1},data:pairs([].concat(...orbit))});
 const star=(name,c,pt)=>({type:'scatter',name,xAxisIndex:ax,yAxisIndex:ax,symbol:astr,symbolSize:15,z:5,silent:true,itemStyle:{color:c},data:[pt]});
 series.push(star('Initial conditions',GREEN,startPoint),star('Final conditions',STAR,endPoint));
}
panel3d(2,orbitB,endPointB);
panel3d(3,orbitC,endPointC);

const option={
 animation:false,backgroundColor:'#fff',
 grid:grids,xAxis:xAxes,yAxis:yAxes,series,graphic:graphics,
 legend:[
  {left:135,top:34,orient:'vertical',data:[nameBlue,nameRed],itemWidth:30,itemHeight:14,itemGap:6,padding:[3,13,3,9],
   backgroundColor:'#fff',borderColor:'#111',borderWidth:1,selectedMode:false,icon:'path://M0,0H30V1.2H0Z',
   formatter:n=>'{i|h}{sub|L}{n|(}{i|t}{n|=0) = '+n.slice(-7)+'}',
   textStyle:{padding:[0,0,0,6],rich:rich(16.5)}},
  {left:324,top:416,orient:'vertical',data:['Initial conditions','Final conditions'],itemWidth:15,itemHeight:15,itemGap:7,padding:[7,8,7,9],
   backgroundColor:'#fff',borderColor:frame,borderWidth:1,selectedMode:false,icon:astr,
   textStyle:{fontSize:18.5,fontFamily:sans,color:ink,padding:[0,0,0,3]}}
 ]
};
const chart=echarts.init(document.getElementById('c'),null,{renderer:'canvas'});
chart.setOption(option);
</script></body></html>
